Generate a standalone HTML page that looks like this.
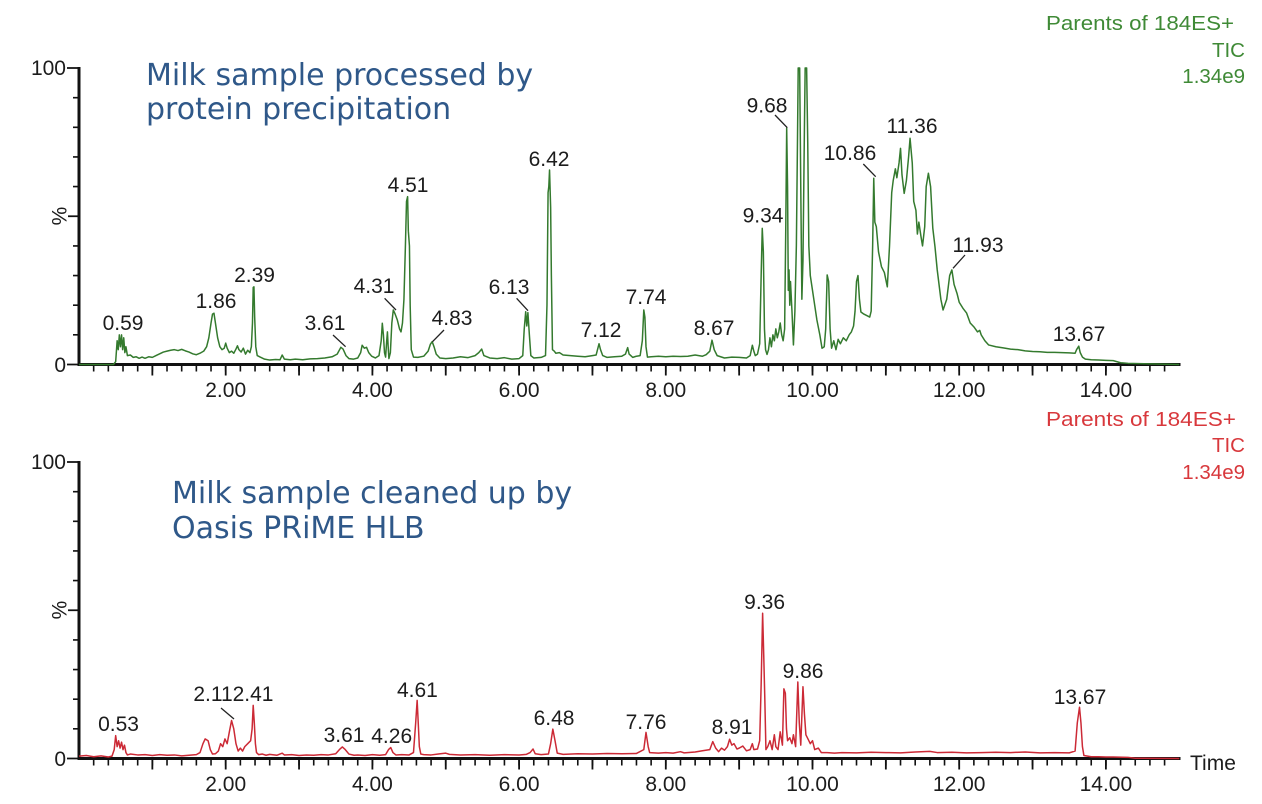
<!DOCTYPE html>
<html>
<head>
<meta charset="utf-8">
<style>
  html,body{margin:0;padding:0;background:#fff;}
  svg{display:block;}
  .lbl{font-family:"Liberation Sans",Arial,sans-serif;font-size:21px;fill:#1c1c1c;}
  .ttl{font-family:"DejaVu Sans",Verdana,sans-serif;font-size:30px;fill:#2f5889;}
  .gr{font-family:"Liberation Sans",Arial,sans-serif;font-size:20.5px;fill:#3f8a36;}
  .rd{font-family:"Liberation Sans",Arial,sans-serif;font-size:20.5px;fill:#d8383c;}
</style>
</head>
<body>
<svg width="1262" height="804" viewBox="0 0 1262 804" xmlns="http://www.w3.org/2000/svg">
<rect x="0" y="0" width="1262" height="804" fill="#fff"/>

<!-- ================= TOP CHART ================= -->
<g stroke="#111" fill="none">
  <line x1="79" y1="67" x2="79" y2="366" stroke-width="3"/>
  <line x1="77.5" y1="364.5" x2="1180.5" y2="364.5" stroke-width="3"/>
  <path stroke-width="1.6" d="M93.67,364.5v7m14.67,-7v7m14.67,-7v7m14.67,-7v7m14.67,-7v7m14.67,-7v7m14.67,-7v7m14.67,-7v7m14.67,-7v7m14.67,-7v7
m14.67,-7v7m14.67,-7v7m14.67,-7v7m14.67,-7v7m14.67,-7v7m14.67,-7v7m14.67,-7v7m14.67,-7v7m14.67,-7v7m14.67,-7v7
m14.67,-7v7m14.67,-7v7m14.67,-7v7m14.67,-7v7m14.67,-7v7m14.67,-7v7m14.67,-7v7m14.67,-7v7m14.67,-7v7m14.67,-7v7
m14.67,-7v7m14.67,-7v7m14.67,-7v7m14.67,-7v7m14.67,-7v7m14.67,-7v7m14.67,-7v7m14.67,-7v7m14.67,-7v7m14.67,-7v7
m14.67,-7v7m14.67,-7v7m14.67,-7v7m14.67,-7v7m14.67,-7v7m14.67,-7v7m14.67,-7v7m14.67,-7v7m14.67,-7v7m14.67,-7v7
m14.67,-7v7m14.67,-7v7m14.67,-7v7m14.67,-7v7m14.67,-7v7m14.67,-7v7m14.67,-7v7m14.67,-7v7m14.67,-7v7m14.67,-7v7
m14.67,-7v7m14.67,-7v7m14.67,-7v7m14.67,-7v7m14.67,-7v7m14.67,-7v7m14.67,-7v7m14.67,-7v7m14.67,-7v7m14.67,-7v7
m14.67,-7v7m14.67,-7v7m14.67,-7v7m14.67,-7v7"/>
  <path stroke-width="1.8" d="M152.35,364.5v11m73.35,-11v11m73.35,-11v11m73.35,-11v11m73.35,-11v11m73.35,-11v11m73.35,-11v11m73.35,-11v11m73.35,-11v11m73.35,-11v11m73.35,-11v11m73.35,-11v11m73.35,-11v11m73.35,-11v11"/>
  <path stroke-width="1.6" d="M79,334.85h-6m6,-29.65h-6m6,-29.65h-6m6,-29.65h-6m6,-29.65h-6m6,-29.65h-6m6,-29.65h-6m6,-29.65h-6m6,-29.65h-6"/>
  <path stroke-width="1.8" d="M79,364.5h-12M79,216.25h-11M79,68h-12"/>
</g>

<g transform="translate(79,364.5) scale(73.35,-2.965)">
<polyline fill="none" stroke="#347a2e" stroke-width="1.5" stroke-linejoin="round" vector-effect="non-scaling-stroke" points="0,0 0.47,0 0.5,1 0.52,8 0.535,5 0.55,10 0.565,6 0.58,10 0.595,5 0.61,9 0.625,4 0.64,6 0.66,3 0.7,3.2 0.74,2.4 0.78,2.6 0.82,2.1 0.86,2.5 0.9,2.1 0.95,2.6 1.0,2.4 1.05,3 1.1,3.6 1.15,4.2 1.2,4.5 1.25,4.8 1.3,5 1.35,4.7 1.4,5.1 1.45,4.6 1.5,4.2 1.55,3.6 1.6,3.3 1.65,3.8 1.7,4.5 1.74,6 1.77,9 1.8,14 1.82,17 1.84,17.3 1.86,14 1.89,9 1.92,6 1.95,5 1.98,5.5 2.0,7.2 2.02,5.5 2.05,4 2.08,4.5 2.11,3.8 2.14,5.2 2.16,6.3 2.18,5 2.21,4.2 2.24,5.5 2.27,3.5 2.3,4.8 2.33,4 2.35,6 2.365,14 2.375,26 2.385,26.2 2.395,16 2.41,6 2.43,3 2.47,2.5 2.53,1.8 2.6,1.5 2.68,1.7 2.74,1.6 2.77,3.2 2.8,1.8 2.88,1.6 2.95,1.8 3.05,1.6 3.15,1.9 3.25,2 3.35,2.2 3.45,2.6 3.52,3.5 3.57,5.8 3.6,5.2 3.64,3 3.68,2 3.74,1.8 3.8,2.2 3.84,4 3.86,6.5 3.89,5.5 3.92,5.8 3.95,4 3.99,2.8 4.04,2.2 4.09,3 4.12,8 4.135,13.9 4.15,10 4.165,4 4.18,2.5 4.195,8 4.205,11 4.215,6 4.225,2 4.245,4 4.265,14 4.285,18.4 4.31,17 4.34,15 4.37,12 4.39,11 4.41,14 4.43,22 4.45,40 4.465,55 4.48,56.6 4.49,45 4.505,40 4.515,20 4.53,5 4.56,2.5 4.62,2.4 4.7,2.8 4.76,4.5 4.79,6.8 4.815,7.7 4.84,6 4.87,3.5 4.92,2.2 5.0,2 5.1,2.2 5.2,2.6 5.3,2.3 5.4,3 5.45,4 5.49,5.2 5.52,3 5.6,2.2 5.7,2 5.8,2.3 5.9,1.8 6.0,2 6.05,3 6.07,12 6.09,17.8 6.105,13 6.12,17.5 6.14,10 6.16,3 6.2,2.2 6.3,2.4 6.36,3 6.38,20 6.395,58 6.405,60 6.415,65.6 6.43,53 6.44,30 6.455,5 6.48,4.5 6.5,3.8 6.55,4 6.6,3.2 6.7,3 6.8,2.8 6.9,2.6 7.0,3 7.05,3.2 7.09,7 7.11,5 7.14,3 7.2,2.4 7.3,2.6 7.4,2.8 7.45,3.5 7.48,5.7 7.5,3.5 7.55,2.4 7.6,2.8 7.65,3 7.68,8 7.7,18.4 7.715,16 7.73,6 7.75,2.5 7.8,2.6 7.9,2.8 8.0,2.6 8.1,2.8 8.2,2.7 8.3,2.8 8.4,3.2 8.5,2.8 8.55,3.3 8.6,4.5 8.63,8.2 8.66,5 8.7,3 8.8,2.2 8.9,2.5 9.0,2.4 9.1,2.2 9.15,3 9.18,6.5 9.2,4.5 9.22,3 9.25,3.5 9.28,7 9.3,30 9.315,45.9 9.33,38 9.345,12 9.36,5 9.38,3.4 9.4,5 9.42,9 9.44,6 9.46,10 9.48,8 9.5,12 9.52,9 9.54,11 9.56,14 9.58,10 9.6,8 9.62,12 9.635,45 9.648,79.7 9.66,60 9.67,25 9.68,31.9 9.69,20 9.7,28 9.72,18 9.74,6.6 9.76,18 9.78,40 9.795,75 9.805,100 9.825,100 9.84,60 9.855,22 9.87,35 9.89,80 9.9,100 9.92,100 9.935,75 9.95,40 9.97,30 10.0,25 10.03,20 10.06,15 10.1,10 10.13,5.5 10.16,6 10.18,12 10.2,30.2 10.22,28 10.24,12 10.26,5.5 10.29,8 10.32,5 10.35,8.5 10.38,7 10.42,9 10.46,8 10.5,10 10.53,11 10.56,13 10.58,18 10.6,28 10.62,30 10.64,22 10.66,17.7 10.7,17 10.74,16.5 10.78,16 10.8,18 10.82,40 10.835,62.8 10.85,48 10.87,46.5 10.9,38 10.94,33 10.98,31 11.02,26.2 11.05,40 11.08,58 11.1,62 11.13,66 11.15,63 11.18,68 11.2,72.9 11.22,64 11.25,57.7 11.28,62 11.31,70 11.33,76.3 11.36,68 11.38,55 11.41,52 11.43,44 11.45,48 11.48,43 11.5,40 11.53,46.5 11.55,60 11.58,64.5 11.61,60 11.64,46 11.67,39.7 11.7,32 11.75,22 11.78,18.4 11.83,22 11.87,30 11.9,31.9 11.93,27 11.97,24 12.0,21 12.05,19 12.1,17.4 12.15,14 12.2,12.7 12.25,11 12.28,11.5 12.3,10 12.35,8 12.4,6.6 12.5,6 12.6,5.6 12.7,5.2 12.8,5 12.9,4.6 13.0,4.4 13.1,4.3 13.2,4.1 13.3,4.1 13.4,4.0 13.5,3.9 13.58,3.8 13.6,5 13.63,6.2 13.65,4 13.68,2.5 13.72,1.8 13.8,1.6 13.9,1.5 14.0,1.4 14.1,1.3 14.2,0.6 14.3,0.4 14.6,0.2 15.0,0"/>
</g>

<!-- top axis labels -->
<g class="lbl">
  <text x="66" y="75" text-anchor="end">100</text>
  <text x="66" y="372" text-anchor="end">0</text>
  <text transform="translate(60,216) rotate(-90)" text-anchor="middle" dominant-baseline="central">%</text>
  <g text-anchor="middle">
    <text x="225.7" y="397">2.00</text>
    <text x="372.4" y="397">4.00</text>
    <text x="519.1" y="397">6.00</text>
    <text x="665.8" y="397">8.00</text>
    <text x="812.5" y="397">10.00</text>
    <text x="959.2" y="397">12.00</text>
    <text x="1105.9" y="397">14.00</text>
  </g>
  <g text-anchor="middle">
    <text x="123" y="330">0.59</text>
    <text x="216" y="308">1.86</text>
    <text x="254.5" y="282">2.39</text>
    <text x="325" y="330">3.61</text>
    <text x="374" y="293">4.31</text>
    <text x="408" y="192">4.51</text>
    <text x="452" y="325">4.83</text>
    <text x="509" y="294">6.13</text>
    <text x="549" y="166">6.42</text>
    <text x="601" y="337">7.12</text>
    <text x="646" y="304">7.74</text>
    <text x="714" y="335">8.67</text>
    <text x="763" y="222.5">9.34</text>
    <text x="767" y="112.5">9.68</text>
    <text x="850" y="160">10.86</text>
    <text x="912" y="133">11.36</text>
    <text x="978" y="252">11.93</text>
    <text x="1079" y="341">13.67</text>
  </g>
</g>
<g stroke="#222" stroke-width="1.3" fill="none">
  <line x1="333" y1="335" x2="345.6" y2="346.7"/>
  <line x1="384.6" y1="298.3" x2="396" y2="310"/>
  <line x1="444" y1="330" x2="432.5" y2="341.7"/>
  <line x1="516.6" y1="298.3" x2="528" y2="310.7"/>
  <line x1="775" y1="115" x2="787.3" y2="127.7"/>
  <line x1="863.3" y1="164" x2="875.7" y2="176.7"/>
  <line x1="965" y1="255" x2="953" y2="268.3"/>
</g>

<text class="ttl" x="146" y="85">Milk sample processed by</text>
<text class="ttl" x="146" y="119">protein precipitation</text>

<text class="gr" x="1046" y="30" textLength="188" lengthAdjust="spacingAndGlyphs">Parents of 184ES+</text>
<text class="gr" x="1245" y="57" text-anchor="end">TIC</text>
<text class="gr" x="1245" y="83" text-anchor="end">1.34e9</text>

<!-- ================= BOTTOM CHART ================= -->
<g stroke="#111" fill="none">
  <line x1="79" y1="461" x2="79" y2="760" stroke-width="3"/>
  <line x1="77.5" y1="758.5" x2="1180.5" y2="758.5" stroke-width="3"/>
  <path stroke-width="1.6" d="M93.67,758.5v7m14.67,-7v7m14.67,-7v7m14.67,-7v7m14.67,-7v7m14.67,-7v7m14.67,-7v7m14.67,-7v7m14.67,-7v7m14.67,-7v7
m14.67,-7v7m14.67,-7v7m14.67,-7v7m14.67,-7v7m14.67,-7v7m14.67,-7v7m14.67,-7v7m14.67,-7v7m14.67,-7v7m14.67,-7v7
m14.67,-7v7m14.67,-7v7m14.67,-7v7m14.67,-7v7m14.67,-7v7m14.67,-7v7m14.67,-7v7m14.67,-7v7m14.67,-7v7m14.67,-7v7
m14.67,-7v7m14.67,-7v7m14.67,-7v7m14.67,-7v7m14.67,-7v7m14.67,-7v7m14.67,-7v7m14.67,-7v7m14.67,-7v7m14.67,-7v7
m14.67,-7v7m14.67,-7v7m14.67,-7v7m14.67,-7v7m14.67,-7v7m14.67,-7v7m14.67,-7v7m14.67,-7v7m14.67,-7v7m14.67,-7v7
m14.67,-7v7m14.67,-7v7m14.67,-7v7m14.67,-7v7m14.67,-7v7m14.67,-7v7m14.67,-7v7m14.67,-7v7m14.67,-7v7m14.67,-7v7
m14.67,-7v7m14.67,-7v7m14.67,-7v7m14.67,-7v7m14.67,-7v7m14.67,-7v7m14.67,-7v7m14.67,-7v7m14.67,-7v7m14.67,-7v7
m14.67,-7v7m14.67,-7v7m14.67,-7v7m14.67,-7v7"/>
  <path stroke-width="1.8" d="M152.35,758.5v11m73.35,-11v11m73.35,-11v11m73.35,-11v11m73.35,-11v11m73.35,-11v11m73.35,-11v11m73.35,-11v11m73.35,-11v11m73.35,-11v11m73.35,-11v11m73.35,-11v11m73.35,-11v11m73.35,-11v11"/>
  <path stroke-width="1.6" d="M79,728.85h-6m6,-29.65h-6m6,-29.65h-6m6,-29.65h-6m6,-29.65h-6m6,-29.65h-6m6,-29.65h-6m6,-29.65h-6m6,-29.65h-6"/>
  <path stroke-width="1.8" d="M79,758.5h-12M79,610.25h-11M79,462h-12"/>
</g>

<g transform="translate(79,758.5) scale(73.35,-2.965)">
<polyline fill="none" stroke="#cc2a36" stroke-width="1.5" stroke-linejoin="round" vector-effect="non-scaling-stroke" points="0,0.8 0.1,1 0.2,0.6 0.3,0.9 0.4,0.5 0.45,0.8 0.48,3 0.5,7.7 0.52,4 0.54,6 0.56,3.5 0.58,5.5 0.6,3 0.62,4.5 0.64,2 0.66,1.2 0.7,1.5 0.8,1.2 0.9,1.3 1.0,1 1.1,1.3 1.2,1.1 1.3,1.2 1.4,0.9 1.5,1.1 1.6,1.3 1.65,2 1.69,5 1.72,6.6 1.76,6 1.79,3 1.82,1.5 1.86,1.6 1.9,2.5 1.93,5 1.96,4 1.99,6.6 2.02,5 2.05,9 2.08,12.8 2.11,10 2.14,5 2.17,2.5 2.2,3.5 2.23,2.5 2.26,4 2.3,5 2.34,6 2.36,10 2.375,17.9 2.39,12 2.405,5 2.42,2 2.45,1.3 2.5,1.5 2.55,1.1 2.6,1.4 2.7,1.1 2.77,1.8 2.8,1.2 2.9,1.3 3.0,1 3.1,1.2 3.2,1.1 3.3,1.3 3.4,1.2 3.5,1.6 3.55,3 3.59,3.9 3.63,3 3.68,1.5 3.75,1.1 3.8,1.2 3.9,1 4.0,1.3 4.1,1.1 4.18,1.3 4.22,3 4.25,3.7 4.28,2 4.32,1.2 4.4,1.3 4.5,1.2 4.56,2 4.59,12 4.61,19.6 4.625,12 4.64,4 4.66,1.5 4.7,1.3 4.8,1.2 4.9,1.5 5.0,1.8 5.05,1.4 5.2,1.2 5.4,1.3 5.6,1.1 5.8,1.3 6.0,1.2 6.1,1.4 6.15,2 6.19,3.2 6.22,1.6 6.3,1.3 6.4,1.5 6.43,5 6.46,9.9 6.49,6 6.52,1.8 6.6,1.4 6.8,1.6 7.0,1.5 7.2,1.7 7.4,1.6 7.6,1.7 7.7,3 7.73,8.8 7.76,4 7.78,2 7.9,1.8 8.0,2 8.1,1.8 8.2,2.3 8.25,1.9 8.4,2.2 8.5,2.6 8.6,3 8.64,5.7 8.68,3.5 8.72,2.3 8.76,3.5 8.8,2.8 8.84,4 8.87,6.5 8.9,4.5 8.93,5 8.97,3.2 9.0,3.5 9.05,4.2 9.1,2.6 9.15,3 9.18,5 9.2,3 9.25,3.2 9.28,6 9.3,25 9.32,49 9.335,35 9.35,20 9.365,3 9.39,4 9.42,6 9.45,3 9.48,8 9.5,4 9.53,3 9.56,9 9.59,4.5 9.61,23.5 9.63,22 9.645,10 9.66,6 9.69,7 9.72,5 9.74,8 9.77,4 9.8,25.8 9.82,12 9.84,4.5 9.87,24.2 9.89,15 9.91,8 9.94,6.5 9.97,5 10.0,6 10.03,3 10.08,3.5 10.12,2 10.2,2 10.3,1.8 10.4,2 10.6,1.9 10.8,2.1 11.0,2 11.2,1.9 11.4,2.2 11.6,2.4 11.7,2 11.9,2.1 12.1,1.9 12.3,2 12.5,2.1 12.7,2 12.9,2.2 13.1,1.9 13.3,2 13.5,1.9 13.58,2.5 13.61,12 13.64,17.3 13.66,12 13.68,4 13.7,1 13.8,0.6 13.9,0.6 14.0,0.5 14.1,0.5 14.3,0.4 14.4,0.1 15.0,0"/>
</g>

<g class="lbl">
  <text x="66" y="469" text-anchor="end">100</text>
  <text x="66" y="766" text-anchor="end">0</text>
  <text transform="translate(60,610) rotate(-90)" text-anchor="middle" dominant-baseline="central">%</text>
  <g text-anchor="middle">
    <text x="225.7" y="791">2.00</text>
    <text x="372.4" y="791">4.00</text>
    <text x="519.1" y="791">6.00</text>
    <text x="665.8" y="791">8.00</text>
    <text x="812.5" y="791">10.00</text>
    <text x="959.2" y="791">12.00</text>
    <text x="1105.9" y="791">14.00</text>
  </g>
  <text x="1190" y="770">Time</text>
  <g text-anchor="middle">
    <text x="118.5" y="731">0.53</text>
    <text x="213" y="701">2.11</text>
    <text x="253" y="701">2.41</text>
    <text x="344" y="742">3.61</text>
    <text x="391.7" y="743">4.26</text>
    <text x="417.4" y="697">4.61</text>
    <text x="554" y="725">6.48</text>
    <text x="646" y="729">7.76</text>
    <text x="732" y="734">8.91</text>
    <text x="764.6" y="609">9.36</text>
    <text x="803" y="678">9.86</text>
    <text x="1080" y="704">13.67</text>
  </g>
</g>
<g stroke="#222" stroke-width="1.3" fill="none">
  <line x1="221" y1="708" x2="234" y2="719"/>
</g>

<text class="ttl" x="172" y="503">Milk sample cleaned up by</text>
<text class="ttl" x="172" y="538">Oasis PRiME HLB</text>

<text class="rd" x="1046" y="426" textLength="190" lengthAdjust="spacingAndGlyphs">Parents of 184ES+</text>
<text class="rd" x="1245" y="452" text-anchor="end">TIC</text>
<text class="rd" x="1245" y="479" text-anchor="end">1.34e9</text>

</svg>
</body>
</html>
